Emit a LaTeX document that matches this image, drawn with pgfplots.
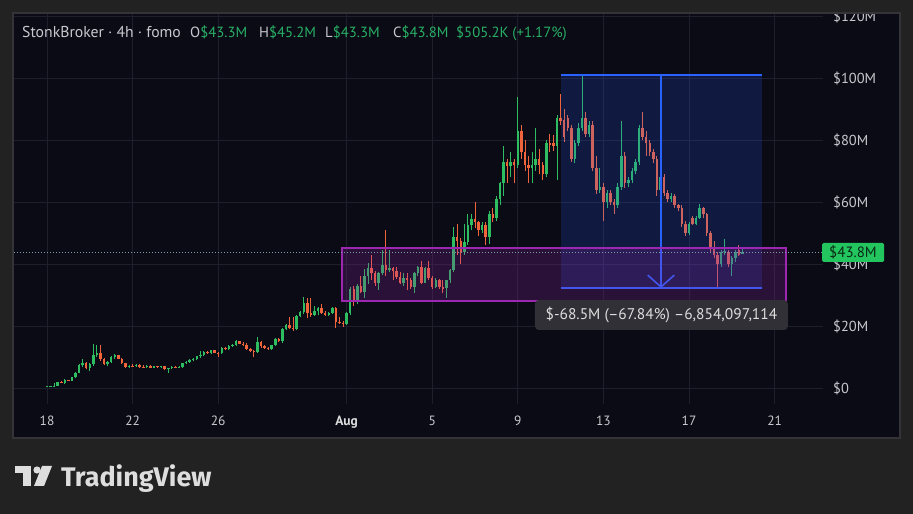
\documentclass[border=0pt]{standalone}
\usepackage{pgfplots}
\usepackage{pgfplotstable}
\pgfplotsset{compat=1.18}
\usepackage{fontspec}
\setmainfont{PT Sans}
\newfontfamily\tvfont{Fira Sans}
\definecolor{outerbg}{RGB}{34,34,34}
\definecolor{panelbg}{RGB}{11,11,22}
\definecolor{panelborder}{RGB}{52,52,56}
\definecolor{gridc}{RGB}{30,30,44}
\definecolor{upc}{RGB}{46,189,96}
\definecolor{downc}{RGB}{240,100,60}
\definecolor{txt}{RGB}{200,200,205}
\definecolor{txtw}{RGB}{222,222,222}
\definecolor{valgreen}{RGB}{40,175,100}
\definecolor{tvpurple}{RGB}{156,39,176}
\definecolor{tvblue}{RGB}{41,98,255}
\definecolor{labelgreen}{RGB}{34,197,94}
\definecolor{labeltxt}{RGB}{10,40,20}
\definecolor{infobox}{RGB}{48,48,54}
\definecolor{dotc}{RGB}{120,160,170}

\pgfplotstableread{
k o h l c
0 0.3 0.6 0.2 0.5
1 0.5 0.8 0.4 0.6
2 0.6 1.5 0.5 0.7
3 0.7 2.0 0.6 1.8
5 1.6 2.8 1.4 2.5
7 2.4 3.6 2.3 3.4
8 3.4 5.2 3.2 5.0
9 5.0 7.6 4.8 7.3
10 7.3 9.2 6.8 8.0
12 6.3 8.0 5.5 7.6
13 7.6 14.2 7.2 10.8
14 10.8 14.0 10.0 11.3
17 7.6 8.6 7.1 8.3
18 8.3 10.2 8.0 9.9
19 9.9 10.9 9.5 10.5
23 6.8 7.3 6.3 7.1
25 7.0 7.8 6.8 7.4
28 6.7 7.4 6.5 7.1
30 6.6 7.2 6.3 7.0
32 6.9 7.1 6.5 7.0
34 6.0 6.4 4.8 6.3
35 6.3 7.2 6.1 6.9
37 6.7 7.0 6.4 6.8
38 6.8 8.2 6.6 8.0
39 8.0 8.6 7.6 8.4
40 8.4 9.2 8.2 9.0
41 9.0 9.6 8.6 9.4
42 9.4 10.4 9.0 10.2
43 10.2 12.0 9.6 10.6
44 10.6 11.8 10.2 11.5
46 11.3 12.3 11.1 12.1
49 11.2 13.2 11.0 12.9
51 12.5 13.9 12.3 13.6
52 13.6 14.2 13.3 13.9
53 13.9 15.4 13.7 15.1
59 11.6 16.5 11.3 14.8
63 12.7 14.0 12.3 13.9
64 13.9 16.0 13.6 15.8
66 15.3 19.2 14.6 19.0
67 19.0 20.6 18.6 20.2
70 19.0 23.6 18.6 23.3
71 23.3 25.0 22.8 24.6
72 24.6 29.2 24.0 27.4
75 23.6 26.5 23.2 25.0
76 25.0 26.0 23.4 25.8
79 23.6 24.5 23.2 24.2
80 24.2 26.0 23.8 25.8
84 20.5 24.5 20.2 24.2
85 24.2 32.6 23.5 32.0
87 28.0 33.6 27.0 33.0
89 31.0 38.5 29.0 36.0
90 36.0 40.2 33.5 38.7
93 34.0 37.5 31.6 37.0
94 37.0 44.5 36.5 39.7
96 38.0 44.5 37.4 38.6
100 34.0 37.0 33.0 35.5
103 32.6 37.5 30.5 37.0
104 37.0 39.4 36.2 39.0
106 34.0 39.0 33.8 38.7
109 32.6 35.5 32.3 35.0
112 32.4 35.0 29.0 34.8
113 34.8 38.5 34.0 38.0
114 38.0 52.0 37.5 48.7
117 44.0 53.0 43.0 47.0
118 47.0 56.0 46.0 52.5
119 52.5 56.0 51.0 54.5
122 51.0 53.5 50.0 52.5
124 48.7 57.0 46.5 56.0
126 55.0 62.0 54.0 61.0
127 61.0 66.5 59.0 66.0
128 66.0 78.0 62.0 73.0
130 71.5 76.0 68.0 73.0
132 72.0 94.0 71.0 83.0
136 71.0 76.0 66.0 72.0
137 72.0 84.0 70.0 74.0
140 69.0 80.0 68.0 79.0
143 78.0 88.0 67.0 87.0
148 74.0 80.0 72.5 79.0
149 79.0 85.5 78.0 84.0
150 84.0 100.5 83.0 87.0
152 82.0 86.0 81.0 85.0
155 64.0 71.0 63.0 65.0
157 60.0 64.0 58.0 63.0
160 59.0 66.0 58.0 65.0
161 65.0 86.0 64.0 75.0
163 66.0 68.0 65.0 67.0
164 67.0 71.0 66.0 70.0
165 70.0 74.0 69.0 73.0
166 73.0 85.0 72.0 84.0
172 64.0 70.0 63.0 68.0
175 61.0 63.0 60.0 62.0
180 50.0 53.5 49.5 53.0
182 53.0 55.5 52.5 55.0
183 55.0 59.5 54.5 58.0
189 40.0 44.5 39.0 44.0
190 44.0 48.0 43.0 44.3
192 40.0 42.5 36.0 42.0
193 42.0 44.5 40.5 44.0
195 43.3 45.2 43.3 43.8
}\upT

\pgfplotstableread{
k o h l c
4 1.8 2.1 1.5 1.6
6 2.5 2.7 2.2 2.4
11 8.0 8.4 6.0 6.3
15 11.3 14.0 8.8 9.2
16 9.2 9.6 7.3 7.6
20 10.5 10.8 9.2 9.4
21 9.4 9.6 7.6 8.0
22 8.0 8.2 6.5 6.8
24 7.1 7.6 6.7 7.0
26 7.4 7.8 6.6 6.9
27 6.9 7.3 6.5 6.7
29 7.1 7.3 6.4 6.6
31 7.0 7.2 6.6 6.9
33 7.0 7.1 5.9 6.0
36 6.9 7.1 6.5 6.7
45 11.5 11.9 11.0 11.3
47 12.1 12.3 11.2 11.4
48 11.4 11.7 10.0 11.2
50 12.9 13.2 12.3 12.5
54 15.1 15.3 14.1 14.3
55 14.3 14.9 13.6 14.0
56 14.0 14.6 12.3 12.6
57 12.6 13.0 11.5 12.0
58 12.0 12.4 10.0 11.6
60 14.8 15.2 13.0 13.4
61 13.4 13.8 12.6 13.0
62 13.0 13.3 12.4 12.7
65 15.8 16.1 15.0 15.3
68 20.2 23.0 19.0 19.3
69 19.3 23.0 18.5 19.0
73 27.4 29.0 22.5 24.2
74 24.2 29.0 23.0 23.6
77 25.8 27.0 23.8 24.2
78 24.2 24.8 23.3 23.6
81 25.8 26.2 19.4 21.3
82 21.3 22.8 20.6 21.0
83 21.0 21.6 19.8 20.5
86 32.0 33.0 26.5 28.0
88 33.0 36.2 30.5 31.0
91 38.7 43.0 35.0 37.0
92 37.0 37.8 33.0 34.0
95 39.7 51.0 36.0 38.0
97 38.6 39.0 35.0 37.6
98 37.6 39.0 35.2 35.8
99 35.8 37.4 33.5 34.0
101 35.5 37.0 31.5 35.0
102 35.0 35.5 31.8 32.6
105 39.0 41.0 33.5 34.0
107 38.7 41.0 35.0 35.5
108 35.5 36.0 32.0 32.6
110 35.0 35.3 32.0 32.6
111 32.6 35.0 30.5 32.0
115 48.7 53.0 43.0 47.5
116 47.5 48.5 40.0 44.0
120 54.5 60.0 51.5 53.5
121 53.5 54.0 49.0 51.0
123 52.5 53.5 46.0 48.7
125 56.0 58.0 53.5 55.0
129 73.0 74.0 66.0 71.5
131 73.0 74.0 66.0 72.0
133 83.0 85.0 74.0 76.0
134 76.0 80.0 70.0 72.0
135 72.0 75.0 66.0 71.0
138 74.0 77.0 69.0 72.0
139 72.0 73.0 67.0 69.0
141 79.0 82.0 76.0 78.5
142 79.0 81.5 76.5 78.0
144 87.0 95.0 85.0 86.0
145 86.5 90.0 79.5 81.0
146 87.0 88.0 83.0 84.0
147 84.0 85.0 73.0 74.0
151 87.0 89.0 81.0 82.0
153 85.0 86.0 70.0 71.0
154 71.0 75.0 62.5 64.0
156 65.0 66.0 54.0 60.0
158 63.0 64.0 59.0 60.0
159 60.0 61.0 56.0 59.0
162 75.0 76.0 64.5 66.0
167 84.0 89.0 80.0 81.0
168 81.0 83.0 75.0 79.0
169 79.0 80.0 75.0 76.0
170 76.0 77.0 72.5 74.0
171 74.0 75.0 62.0 64.0
173 68.0 69.0 62.0 63.0
174 63.0 64.0 60.0 61.0
176 62.0 62.5 58.0 59.0
177 59.0 59.5 57.0 58.0
178 58.0 59.0 52.0 53.0
179 53.0 54.0 49.0 50.0
181 55.0 55.5 52.5 53.0
184 58.0 58.5 55.0 56.0
185 56.0 56.5 49.0 50.0
186 50.0 50.5 44.0 45.0
187 45.0 47.5 42.0 43.0
188 43.0 44.0 32.0 40.0
191 44.0 44.5 39.0 40.0
194 44.5 46.0 42.5 43.0
}\downT

\begin{document}
\begin{tikzpicture}
\fill[outerbg] (0bp,0bp) rectangle (913bp,514bp);
\fill[panelbg] (13bp,76bp) rectangle (900bp,501bp);
\begin{axis}[
  at={(14bp,110bp)}, anchor=south west,
  scale only axis, width=809bp, height=390bp,
  xmin=-1.542, xmax=36.26, ymin=-5.16, ymax=120.65,
  axis line style={draw=none},
  major tick length=0pt,
  grid=major,
  major grid style={draw=gridc, line width=0.9bp},
  xtick={0,4,8,14,18,22,26,30,34},
  xticklabels={18,22,26,{\color{txtw}\bfseries Aug},5,9,13,17,21},
  xticklabel style={anchor=base, yshift=-22bp, text=txt, font=\fontsize{13.5}{15}\selectfont},
  ytick={0,20,40,60,80,100,120},
  yticklabels={\$0,\$20M,\$40M,\$60M,\$80M,\$100M,\$120M},
  yticklabel pos=right,
  yticklabel style={anchor=west, inner sep=0pt, xshift=10bp, text=txt, font=\fontsize{14.5}{16}\selectfont},
]
% wicks
\addplot[draw=none, forget plot, error bars/.cd, y dir=plus, y explicit, error mark=none,
  error bar style={draw=upc, line width=0.9bp}]
  table[x expr=\thisrow{k}/6, y=l, y error plus expr=\thisrow{h}-\thisrow{l}] {\upT};
\addplot[draw=none, forget plot, error bars/.cd, y dir=plus, y explicit, error mark=none,
  error bar style={draw=downc, line width=0.9bp}]
  table[x expr=\thisrow{k}/6, y=l, y error plus expr=\thisrow{h}-\thisrow{l}] {\downT};
% bodies
\addplot[draw=none, forget plot, error bars/.cd, y dir=plus, y explicit, error mark=none,
  error bar style={draw=upc, line width=2.5bp}]
  table[x expr=\thisrow{k}/6, y=o, y error plus expr=\thisrow{c}-\thisrow{o}] {\upT};
\addplot[draw=none, forget plot, error bars/.cd, y dir=plus, y explicit, error mark=none,
  error bar style={draw=downc, line width=2.5bp}]
  table[x expr=\thisrow{k}/6, y=c, y error plus expr=\thisrow{o}-\thisrow{c}] {\downT};
% measurement box
\fill[tvblue, opacity=0.18] (axis cs:24.02,32.3) rectangle (axis cs:33.41,101.0);
\draw[tvblue, line width=1.6bp] (axis cs:24.02,101.0) -- (axis cs:33.41,101.0);
\draw[tvblue, line width=1.6bp] (axis cs:24.02,32.3) -- (axis cs:33.41,32.3);
\draw[tvblue, line width=1.6bp] (axis cs:28.69,101.0) -- (axis cs:28.69,32.5);
\draw[tvblue, line width=1.6bp] (axis cs:28.07,36.4) -- (axis cs:28.69,32.6) -- (axis cs:29.31,36.4);
% range box
\fill[tvpurple, opacity=0.22] (axis cs:13.79,28.1) rectangle (axis cs:34.53,45.2);
\draw[tvpurple, line width=1.8bp] (axis cs:13.79,28.1) rectangle (axis cs:34.53,45.2);
% last price line
\draw[dotc, line width=0.9bp, dash pattern=on 1bp off 2bp] (axis cs:-1.542,43.8) -- (axis cs:36.26,43.8);
% info label
\node[fill=infobox, rounded corners=4bp, text=txtw, minimum width=253bp, minimum height=30bp, inner sep=0pt,
  font=\fontsize{15.5}{17}\selectfont] at (axis cs:28.71,23.55) {\$-68.5M (\textendash67.84\%) \textendash6,854,097,114};
\end{axis}
% outer frame
\fill[outerbg, even odd rule] (0bp,0bp) rectangle (913bp,514bp) (13bp,76bp) rectangle (900bp,501bp);
\draw[panelborder, line width=1.5bp] (13bp,76bp) rectangle (900bp,501bp);
% price label
\fill[labelgreen, rounded corners=1.5bp] (822bp,252bp) rectangle (884bp,271bp);
\node[text=labeltxt, inner sep=0pt, font=\fontsize{15}{16}\selectfont] at (853bp,261.5bp) {\$43.8M};
% title
\begin{scope}[every node/.style={anchor=base west, inner sep=0pt, text=txt, font=\fontsize{14.8}{17}\selectfont}]
\node[font=\fontsize{15.8}{17}\selectfont] at (22bp,476bp) {StonkBroker · 4h · fomo};
\node at (190bp,476bp) {O\textcolor{valgreen}{\$43.3M}};
\node at (259bp,476bp) {H\textcolor{valgreen}{\$45.2M}};
\node at (325bp,476bp) {L\textcolor{valgreen}{\$43.3M}};
\node at (393bp,476bp) {C\textcolor{valgreen}{\$43.8M}};
\node at (456bp,476bp) {\textcolor{valgreen}{\$505.2K (+1.17\%)}};
\end{scope}
% TradingView logo
\fill[txtw] (15bp,41bp) rectangle (31bp,48bp);
\fill[txtw] (23bp,28bp) rectangle (31bp,48bp);
\fill[txtw] (37bp,44bp) circle (3.6bp);
\fill[txtw] (42bp,48bp) -- (52bp,48bp) -- (44bp,28bp) -- (34bp,28bp) -- cycle;
\node[anchor=base west, inner sep=0pt, text=txtw, font=\tvfont\bfseries\fontsize{27}{30}\selectfont] at (61bp,28bp) {TradingView};
\end{tikzpicture}
\end{document}
